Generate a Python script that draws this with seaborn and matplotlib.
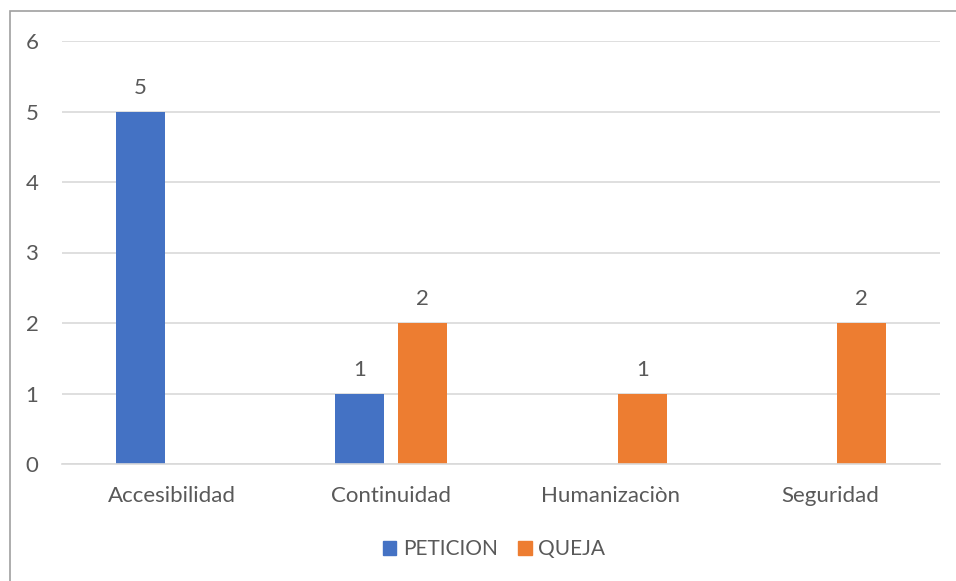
import pandas as pd
import matplotlib
matplotlib.use("Agg")
import matplotlib.pyplot as plt
import matplotlib.patches as mpatches
import seaborn as sns

categories = ["Accesibilidad", "Continuidad", "Humanizaciòn", "Seguridad"]
peticion = [5, 1, 0, 0]
queja = [0, 2, 1, 2]
series_names = ["PETICION", "QUEJA"]
colors = {"PETICION": "#4472C4", "QUEJA": "#ED7D31"}
TEXT = "#595959"

sns.set_theme(style="white")
plt.rcParams["font.family"] = ["Lato", "DejaVu Sans"]

df = pd.DataFrame({
    "categoria": categories * 2,
    "serie": [series_names[0]] * len(categories) + [series_names[1]] * len(categories),
    "valor": peticion + queja,
})

fig = plt.figure(figsize=(9.56, 5.81), dpi=100)
ax = fig.add_axes([62 / 956, 1 - 464 / 581, (940 - 62) / 956, (464 - 41) / 581])

sns.barplot(data=df, x="categoria", y="valor", hue="serie", palette=colors,
            width=0.574, gap=0.222, saturation=1, linewidth=0, ax=ax,
            legend=False, errorbar=None)

for cont in ax.containers:
    labels = [f"{b.get_height():.0f}" if b.get_height() > 0 else "" for b in cont]
    ax.bar_label(cont, labels=labels, padding=10, fontsize=16, color=TEXT)

ax.set_ylim(0, 6)
ax.set_xlim(-0.5, 3.5)
ax.set_yticks(range(0, 7))
ax.yaxis.grid(True, color="#D9D9D9", linewidth=1.2)
ax.set_axisbelow(True)
for s in ["left", "right", "top"]:
    ax.spines[s].set_visible(False)
ax.spines["bottom"].set_color("#D9D9D9")
ax.spines["bottom"].set_linewidth(1.2)
ax.tick_params(axis="both", length=0, labelsize=16, labelcolor=TEXT)
ax.tick_params(axis="y", pad=17)
ax.tick_params(axis="x", pad=16)
ax.set_xlabel("")
ax.set_ylabel("")

handles = [mpatches.Patch(color=colors[n], label=n) for n in series_names]
fig.legend(handles=handles, loc="center", bbox_to_anchor=(494 / 956, 1 - 549 / 581),
           ncol=2, frameon=False, fontsize=15, labelcolor=TEXT,
           handlelength=0.65, handleheight=0.65, handletextpad=0.3, columnspacing=1.0)

# chart border (right and bottom edges fall outside the canvas)
fig.patches.append(mpatches.Rectangle((10 / 956, -0.1), 1.2, 1 - 11 / 581 + 0.1,
                                      transform=fig.transFigure, fill=False,
                                      edgecolor="#A0A0A0", linewidth=1.2))

fig.savefig("out.png", dpi=100)
